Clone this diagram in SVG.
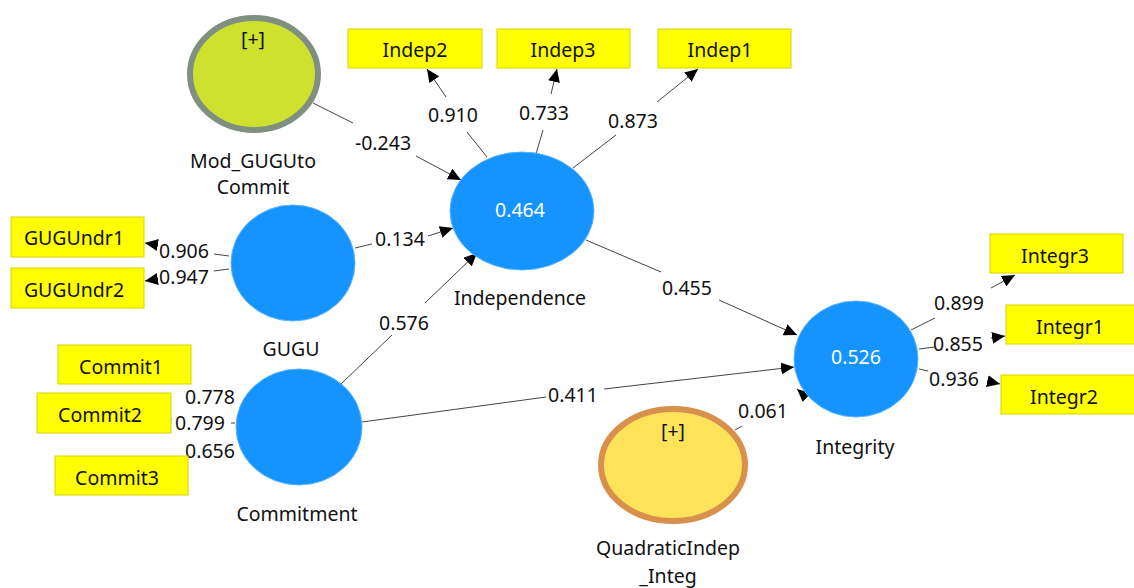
<svg xmlns="http://www.w3.org/2000/svg" width="1134" height="588" viewBox="0 0 1134 588">
<style>
text{font-family:"Noto Sans","Open Sans","DejaVu Sans",sans-serif;font-size:19.5px;fill:#111;text-anchor:middle;dominant-baseline:central}
.lat{fill:#1593ff;stroke:#5ab3ff;stroke-width:1}
.ind{fill:#ffff00;stroke:#d4d400;stroke-width:1}
.ln{stroke:#444;stroke-width:1;fill:none}
.v{fill:#fff}
</style>
<defs>
<marker id="ah" markerUnits="userSpaceOnUse" markerWidth="14" markerHeight="12" refX="13" refY="6" orient="auto">
<path d="M0,0 L13,6 L0,12 Z" fill="#000"/>
</marker>
</defs>
<rect width="1134" height="588" fill="#fff"/>
<g id="connectors">
<path class="ln" d="M313,103 L353,123"/>
<path class="ln" d="M416,156 L461,180" marker-end="url(#ah)"/>
<path class="ln" d="M487,157 L467,132"/>
<path class="ln" d="M446,97 L427,69" marker-end="url(#ah)"/>
<path class="ln" d="M536,154 L543,130"/>
<path class="ln" d="M551,94 L557,69" marker-end="url(#ah)"/>
<path class="ln" d="M573,168 L616,135"/>
<path class="ln" d="M657,102 L698,69" marker-end="url(#ah)"/>
<path class="ln" d="M355,248 L372,244"/>
<path class="ln" d="M428,236 L453,228" marker-end="url(#ah)"/>
<path class="ln" d="M341,384 L392,335"/>
<path class="ln" d="M425,303 L477,253" marker-end="url(#ah)"/>
<path class="ln" d="M229,256 L214,254"/>
<path class="ln" d="M158,245 L145,243" marker-end="url(#ah)"/>
<path class="ln" d="M229,269 L214,271"/>
<path class="ln" d="M158,279 L145,281" marker-end="url(#ah)"/>
<path class="ln" d="M235,423 L231,423"/>
<path class="ln" d="M172,419 L170,419"/>
<path class="ln" d="M586,240 L661,272"/>
<path class="ln" d="M719,300 L797,335" marker-end="url(#ah)"/>
<path class="ln" d="M362,422 L546,397"/>
<path class="ln" d="M604,389 L794,367" marker-end="url(#ah)"/>
<path class="ln" d="M735,430 L742,426"/>
<path class="ln" d="M805,396 L797,389" marker-end="url(#ah)"/>
<path class="ln" d="M911,330 L935,318"/>
<path class="ln" d="M991,288 L1015,275" marker-end="url(#ah)"/>
<path class="ln" d="M919,349 L935,347"/>
<path class="ln" d="M991,338 L1005,336" marker-end="url(#ah)"/>
<path class="ln" d="M919,369 L928,371"/>
<path class="ln" d="M987,381 L1000,384" marker-end="url(#ah)"/>
<text x="383" y="142">-0.243</text>
<text x="453" y="114">0.910</text>
<text x="544" y="112">0.733</text>
<text x="633" y="120">0.873</text>
<text x="400" y="238">0.134</text>
<text x="404" y="322">0.576</text>
<text x="184" y="250">0.906</text>
<text x="184" y="276">0.947</text>
<text x="210" y="396">0.778</text>
<text x="200" y="422">0.799</text>
<text x="210" y="450">0.656</text>
<text x="687" y="287">0.455</text>
<text x="573" y="394">0.411</text>
<text x="763" y="410">0.061</text>
<text x="959" y="302">0.899</text>
<text x="958" y="343">0.855</text>
<text x="954" y="378">0.936</text>
</g>
<g id="mod">
<ellipse cx="254" cy="74" rx="64" ry="56" fill="#cde12e" stroke="#808f80" stroke-width="6"/>
<text x="253" y="38">[+]</text>
<text x="253" y="160">Mod_GUGUto</text>
<text x="253" y="186">Commit</text>
</g>
<g id="independence">
<ellipse class="lat" cx="522" cy="211" rx="72" ry="59"/>
<text class="v" x="520" y="209">0.464</text>
<text x="520" y="297">Independence</text>
</g>
<g id="gugu">
<ellipse class="lat" cx="293" cy="263" rx="62" ry="58"/>
<text x="291" y="348">GUGU</text>
</g>
<g id="commitment">
<ellipse class="lat" cx="299" cy="427" rx="63" ry="58"/>
<text x="297" y="513">Commitment</text>
</g>
<g id="integrity">
<ellipse class="lat" cx="856" cy="359" rx="62" ry="58"/>
<text class="v" x="856" y="356">0.526</text>
<text x="855" y="446">Integrity</text>
</g>
<g id="quadratic">
<ellipse cx="673" cy="465" rx="72" ry="56" fill="#fde35a" stroke="#d9904d" stroke-width="6"/>
<text x="673" y="430">[+]</text>
<text x="668" y="547">QuadraticIndep</text>
<text x="668" y="575">_Integ</text>
</g>
<g id="indep2"><rect class="ind" x="348" y="29" width="134" height="39"/><text x="415" y="49">Indep2</text></g>
<g id="indep3"><rect class="ind" x="497" y="29" width="133" height="39"/><text x="563" y="49">Indep3</text></g>
<g id="indep1"><rect class="ind" x="658" y="29" width="133" height="39"/><text x="720" y="49">Indep1</text></g>
<g id="gugundr1"><rect class="ind" x="11" y="217" width="133" height="40"/><text x="74" y="237">GUGUndr1</text></g>
<g id="gugundr2"><rect class="ind" x="11" y="268" width="133" height="40"/><text x="74" y="289">GUGUndr2</text></g>
<g id="commit1"><rect class="ind" x="58" y="345" width="133" height="39"/><text x="121" y="366">Commit1</text></g>
<g id="commit2"><rect class="ind" x="37" y="393" width="134" height="40"/><text x="100" y="414">Commit2</text></g>
<g id="commit3"><rect class="ind" x="55" y="456" width="133" height="39"/><text x="117" y="477">Commit3</text></g>
<g id="integr3"><rect class="ind" x="990" y="234" width="133" height="39"/><text x="1055" y="255">Integr3</text></g>
<g id="integr1"><rect class="ind" x="1006" y="305" width="134" height="39"/><text x="1070" y="326">Integr1</text></g>
<g id="integr2"><rect class="ind" x="1001" y="375" width="134" height="39"/><text x="1064" y="396">Integr2</text></g>
</svg>
